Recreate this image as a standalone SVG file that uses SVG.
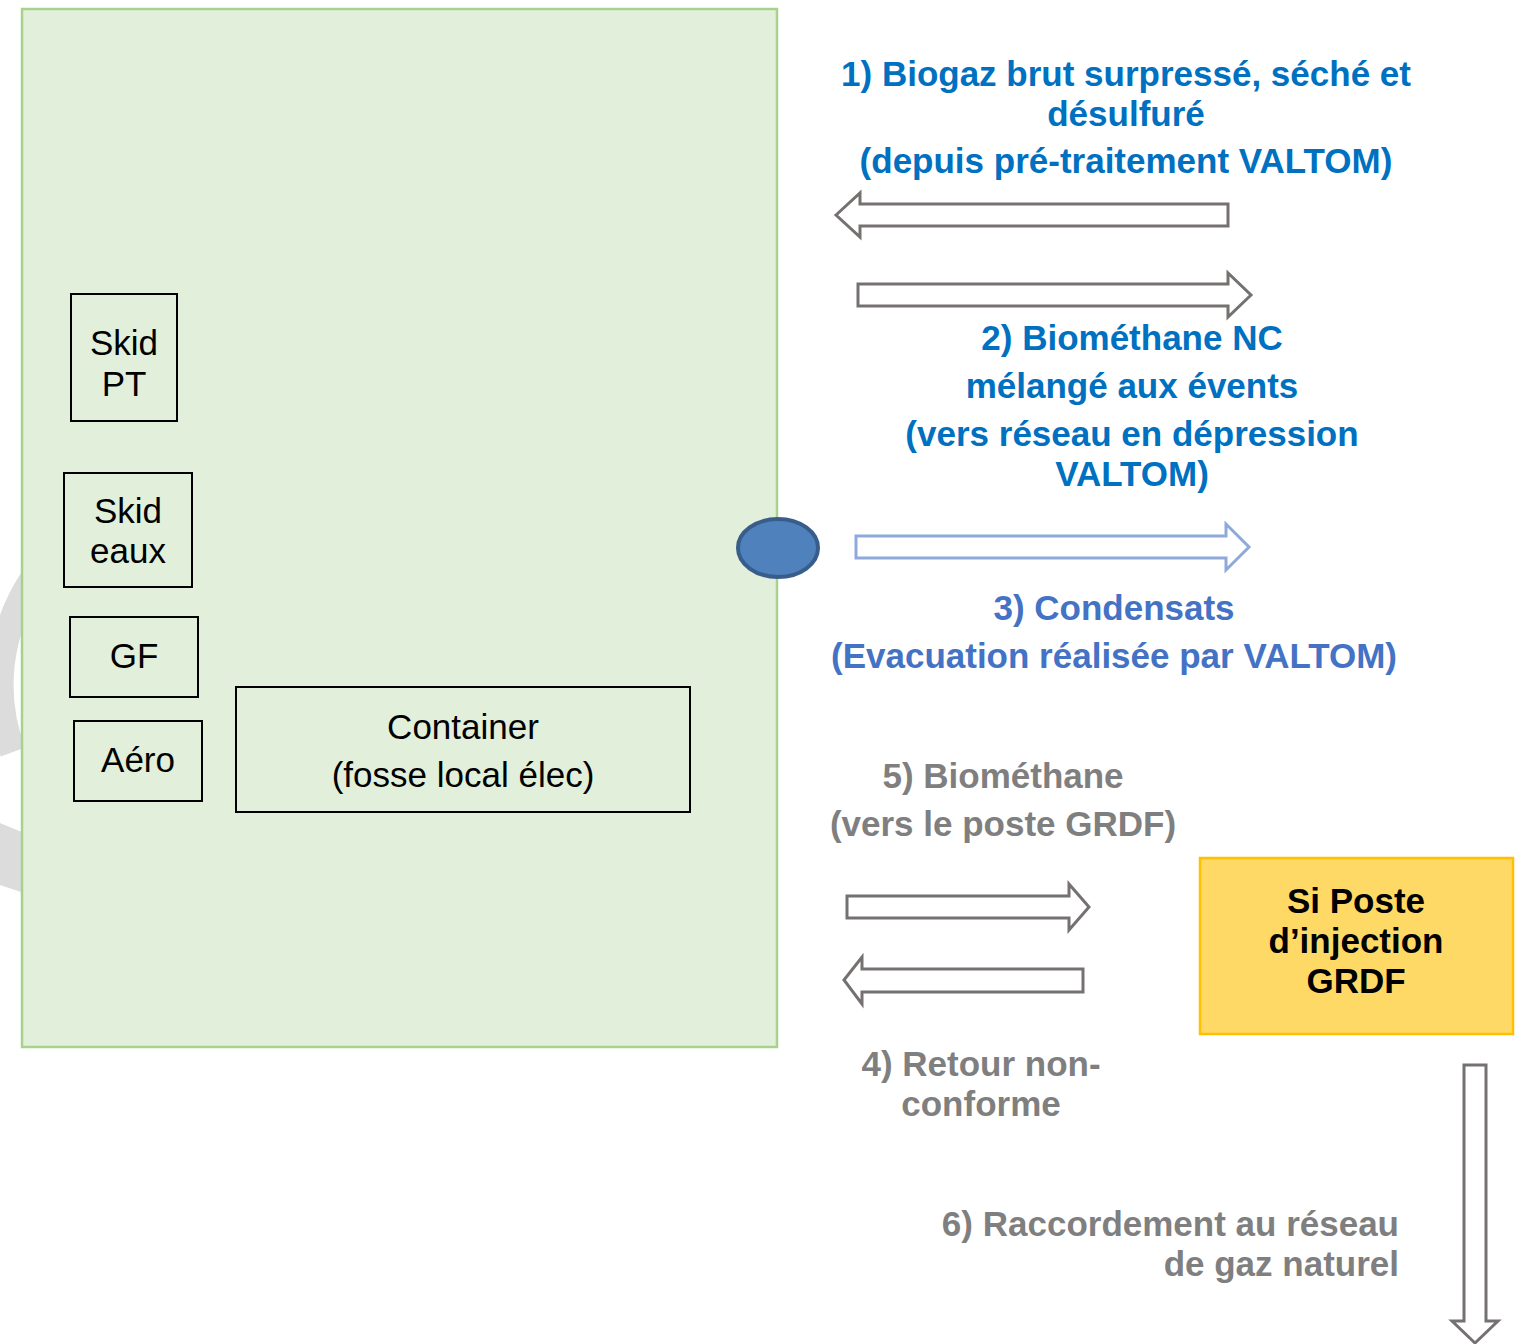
<svg xmlns="http://www.w3.org/2000/svg" width="1520" height="1344" viewBox="0 0 1520 1344">
<style>
.box{fill:none;stroke:#000;stroke-width:2}
.lbl{font-family:"Liberation Sans",Arial,sans-serif;font-size:35px;fill:#000;text-anchor:middle}
.b{font-family:"Liberation Sans",Arial,sans-serif;font-size:35px;font-weight:bold;text-anchor:middle}
.blue{fill:#0070C0}
.blue2{fill:#4472C4}
.grey{fill:#7F7F7F}
.arr{fill:#fff;stroke:#767171;stroke-width:3;stroke-linejoin:miter}
.arrb{fill:#fff;stroke:#8EAADB;stroke-width:3}
</style>
<rect width="1520" height="1344" fill="#fff"/>
<g id="watermark">
<path d="M62,545 A190,190 0 0 0 13,752" fill="none" stroke="#DCDCDC" stroke-width="26"/>
<polygon points="0,823 24,833 24,893 0,885" fill="#DCDCDC"/>
</g>
<g id="site">
<rect x="22" y="9" width="755" height="1038" fill="#E2EFDA" stroke="#A9D18E" stroke-width="2.5"/>
</g>
<g id="skid-pt">
<rect class="box" x="71" y="294" width="106" height="127"/>
<text class="lbl" x="124" y="355">Skid</text>
<text class="lbl" x="124" y="396">PT</text>
</g>
<g id="skid-eaux">
<rect class="box" x="64" y="473" width="128" height="114"/>
<text class="lbl" x="128" y="523">Skid</text>
<text class="lbl" x="128" y="563">eaux</text>
</g>
<g id="gf">
<rect class="box" x="70" y="617" width="128" height="80"/>
<text class="lbl" x="134" y="668">GF</text>
</g>
<g id="aero">
<rect class="box" x="74" y="721" width="128" height="80"/>
<text class="lbl" x="138" y="772">Aéro</text>
</g>
<g id="container">
<rect class="box" x="236" y="687" width="454" height="125"/>
<text class="lbl" x="463" y="739">Container</text>
<text class="lbl" x="463" y="787">(fosse local élec)</text>
</g>
<g id="point">
<ellipse cx="778" cy="548" rx="40" ry="29" fill="#4F81BD" stroke="#385D8A" stroke-width="4"/>
</g>
<g id="poste-grdf">
<rect x="1200" y="858" width="313" height="176" fill="#FFD966" stroke="#FFC000" stroke-width="2.5"/>
<text class="b" x="1356" y="913" fill="#000">Si Poste</text>
<text class="b" x="1356" y="953" fill="#000">d’injection</text>
<text class="b" x="1356" y="993" fill="#000">GRDF</text>
</g>
<g id="connectors">
<polygon class="arr" points="836,215 860,193 860,204 1228,204 1228,226 860,226 860,237"/>
<polygon class="arr" points="858,284 1228,284 1228,273 1251,295 1228,317 1228,306 858,306"/>
<polygon class="arrb" points="856,536 1226,536 1226,524 1249,547 1226,570 1226,558 856,558"/>
<polygon class="arr" points="847,896 1069,896 1069,884 1089,907 1069,930 1069,918 847,918"/>
<polygon class="arr" points="844,980 862,957 862,969 1083,969 1083,992 862,992 862,1004"/>
<polygon class="arr" points="1464,1065 1486,1065 1486,1321 1498,1321 1475,1343 1452,1321 1464,1321"/>
</g>
<g id="labels">
<text class="b blue" x="1126" y="86">1) Biogaz brut surpressé, séché et</text>
<text class="b blue" x="1126" y="126">désulfuré</text>
<text class="b blue" x="1126" y="173">(depuis pré-traitement VALTOM)</text>
<text class="b blue" x="1132" y="350">2) Biométhane NC</text>
<text class="b blue" x="1132" y="398">mélangé aux évents</text>
<text class="b blue" x="1132" y="446">(vers réseau en dépression</text>
<text class="b blue" x="1132" y="486">VALTOM)</text>
<text class="b blue2" x="1114" y="620">3) Condensats</text>
<text class="b blue2" x="1114" y="668">(Evacuation réalisée par VALTOM)</text>
<text class="b grey" x="1003" y="788">5) Biométhane</text>
<text class="b grey" x="1003" y="836">(vers le poste GRDF)</text>
<text class="b grey" x="981" y="1076">4) Retour non-</text>
<text class="b grey" x="981" y="1116">conforme</text>
<text class="b grey" x="1399" y="1236" style="text-anchor:end">6) Raccordement au réseau</text>
<text class="b grey" x="1399" y="1276" style="text-anchor:end">de gaz naturel</text>
</g>
</svg>
